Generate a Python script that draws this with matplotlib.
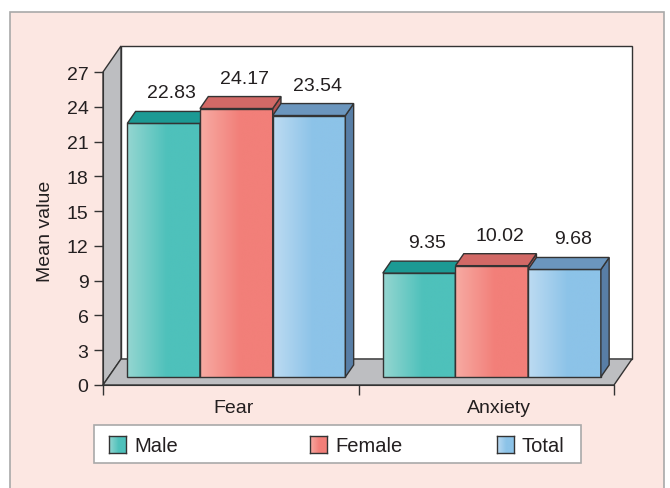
import numpy as np
import matplotlib
matplotlib.use("Agg")
import matplotlib.pyplot as plt
from matplotlib.patches import Polygon, Rectangle
from matplotlib.colors import LinearSegmentedColormap

plt.rcParams['font.family'] = ['Liberation Sans', 'DejaVu Sans']

# ---------------- data ----------------
categories = ['Fear', 'Anxiety']
series = ['Male', 'Female', 'Total']
male = [22.83, 9.35]
female = [24.17, 10.02]
total = [23.54, 9.68]
yticks = [0, 3, 6, 9, 12, 15, 18, 21, 24, 27]

# colours: light edge, main, top, side
cols = {
    'Male':   ('#95d6d1', '#4ec1bb', '#1c9a94', '#17807b'),
    'Female': ('#f7aba3', '#f27f79', '#d26966', '#b35452'),
    'Total':  ('#bddbf2', '#8cc3e8', '#6b96be', '#587ea6'),
}
edge = '#333333'
txt = '#231f20'

# ---------------- 3d geometry (data units) ----------------
DX, DY = 0.0705, 2.243      # depth offset of back wall
z0, z1 = 0.31, 0.77         # bar front / back depth fraction
bw = 0.2845                 # bar width
shrink = 0.958              # bars are drawn slightly foreshortened

W, H = 670, 489
fig = plt.figure(figsize=(6.7, 4.89), dpi=100)
fig.patch.set_facecolor('white')
bg = Rectangle((10/W, -0.05), 654/W, 1.05 - 13/H,
               transform=fig.transFigure, facecolor='#fce7e2',
               edgecolor='#a9a9a9', lw=1.2, zorder=-5)
fig.patches.append(bg)

ax = fig.add_axes([103/W, 103/H, 511/W, 313/H])
ax.set_facecolor('none')
ax.set_zorder(2)
ax.set_xlim(0, 2)
ax.set_ylim(0, 27)

# walls and floor
top = yticks[-1]
ax.add_patch(Polygon([(DX, DY), (2 + DX, DY), (2 + DX, top + DY), (DX, top + DY)],
                     closed=True, facecolor='white', edgecolor=edge, lw=1,
                     clip_on=False, zorder=1))
ax.add_patch(Polygon([(0, 0), (DX, DY), (DX, top + DY), (0, top)],
                     closed=True, facecolor='#bdbec1', edgecolor=edge, lw=1,
                     clip_on=False, zorder=1))
ax.add_patch(Polygon([(0, 0), (2, 0), (2 + DX, DY), (DX, DY)],
                     closed=True, facecolor='#bdbec1', edgecolor=edge, lw=1,
                     clip_on=False, zorder=1))

g = np.clip(np.linspace(0, 1, 200) / 0.55, 0, 1)[np.newaxis, :]

bx0, by0 = z0 * DX, z0 * DY
bdx, bdy = (z1 - z0) * DX, (z1 - z0) * DY
zo = 2
values = {'Male': male, 'Female': female, 'Total': total}
for i, cat in enumerate(categories):
    for j, s in enumerate(series):
        v = values[s][i]
        light, main, topc, side = cols[s]
        xl = i + 0.5 - 1.5 * bw + j * bw + bx0
        xr = xl + bw
        yb = by0
        yt = by0 + v * shrink
        cmap = LinearSegmentedColormap.from_list(s, [light, main])
        ax.imshow(g, cmap=cmap, extent=[xl, xr, yb, yt], aspect='auto',
                  interpolation='bilinear', zorder=zo)
        ax.add_patch(Rectangle((xl, yb), bw, yt - yb, fill=False,
                               edgecolor=edge, lw=1, zorder=zo + 0.1))
        ax.add_patch(Polygon([(xr, yb), (xr + bdx, yb + bdy), (xr + bdx, yt + bdy), (xr, yt)],
                             closed=True, facecolor=side, edgecolor=edge, lw=1,
                             zorder=zo + 0.2))
        ax.add_patch(Polygon([(xl, yt), (xr, yt), (xr + bdx, yt + bdy), (xl + bdx, yt + bdy)],
                             closed=True, facecolor=topc, edgecolor=edge, lw=1,
                             zorder=zo + 0.3))
        ax.text(xl + bw / 2 + bdx, yt + bdy + 1.6, f'{v:.2f}', ha='center',
                va='center', fontsize=14, color=txt, zorder=20)
        zo += 1

ax.set_xlim(0, 2)
ax.set_ylim(0, 27)

# axes styling
for sp in ['top', 'right']:
    ax.spines[sp].set_visible(False)
ax.spines['left'].set_color(edge)
ax.spines['bottom'].set_color(edge)
ax.spines['left'].set_zorder(30)
ax.spines['bottom'].set_zorder(30)
ax.set_yticks(yticks)
ax.tick_params(axis='y', direction='out', length=6.5, width=1, color=edge,
               labelsize=14, labelcolor=txt, pad=4)
ax.set_xticks([0, 1, 2])
ax.set_xticklabels([])
ax.set_xticks([0.51, 1.55], minor=True)
ax.set_xticklabels(categories, minor=True)
ax.tick_params(axis='x', which='major', direction='out', length=7, width=1, color=edge)
ax.tick_params(axis='x', which='minor', length=0, labelsize=14, labelcolor=txt, pad=10)

fig.text(45/W, 1 - 231/H, 'Mean value', rotation=90, ha='center', va='center',
         fontsize=14, color=txt)

# legend box with gradient swatches
fig.patches.append(Rectangle((94/W, 1 - 464/H), 487/W, 38/H, transform=fig.transFigure,
                             facecolor='white', edgecolor='#a9a9a9', lw=1.2, zorder=3))
leg_x = [109, 310, 497]
for s, x in zip(series, leg_x):
    light, main = cols[s][0], cols[s][1]
    sw = fig.add_axes([x/W, 1 - 453.5/H, 17/W, 17/H])
    sw.set_zorder(4)
    sw.imshow(g, cmap=LinearSegmentedColormap.from_list(s, [light, main]),
              aspect='auto', interpolation='bilinear')
    sw.set_xticks([])
    sw.set_yticks([])
    for sp in sw.spines.values():
        sp.set_color(edge)
        sp.set_linewidth(1)
    fig.text((x + 25)/W, 1 - 446.5/H, s, ha='left', va='center', fontsize=14.5,
             color=txt, zorder=5)

fig.savefig('out.png', dpi=100, facecolor='white')
